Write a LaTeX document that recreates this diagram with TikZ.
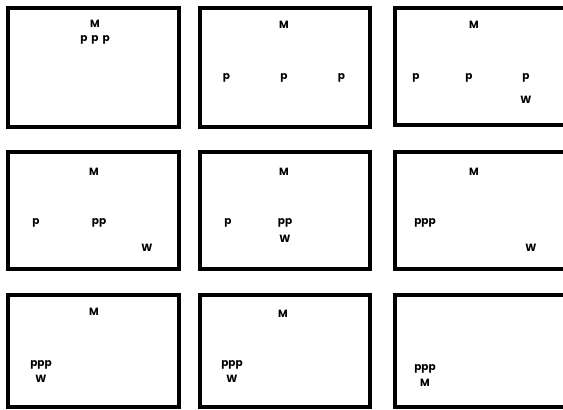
\documentclass[tikz,border=0pt]{standalone}
\usepackage{fontspec}
\setmainfont{Poppins}
\usetikzlibrary{positioning}

\tikzset{
    frame/.style={draw, line width=3.8pt},
    tok/.style={inner sep=0pt, font=\fontsize{10.5}{10.5}\selectfont\bfseries},
}

\begin{document}
\begin{tikzpicture}[x=1pt, y=-1pt]
    \useasboundingbox (0,0) rectangle (563,410);
    % frames (right column runs off the page)
    \draw[frame] (8,8) rectangle (179,127);
    \draw[frame] (200,8) rectangle (370,127);
    \draw[frame] (395,8) rectangle (575,125);
    \draw[frame] (8,152) rectangle (179,269);
    \draw[frame] (200,152) rectangle (370,269);
    \draw[frame] (395,152) rectangle (575,269);
    \draw[frame] (8,295) rectangle (179,407);
    \draw[frame] (200,295) rectangle (370,407);
    \draw[frame] (395,295) rectangle (575,407);

    % panel 1
    \node[tok] (m1) at (95,24) {M};
    \node[tok] (p1) at (95,40) {p\hspace{4pt}p\hspace{4pt}p};
    % panel 2
    \node[tok] (m2) at (284,25) {M};
    \node[tok] (p2b) at (284,78) {p};
    \node[tok, left=50pt of p2b] (p2a) {p};
    \node[tok, right=50pt of p2b] (p2c) {p};
    % panel 3
    \node[tok] (m3) at (474,25) {M};
    \node[tok] (p3b) at (469,78) {p};
    \node[tok] (p3a) at (416,78) {p};
    \node[tok] (p3c) at (526,78) {p};
    \node[tok, below=13pt of p3c] (w3) {W};
    % panel 4
    \node[tok] (m4) at (94,172) {M};
    \node[tok] (p4a) at (36,223) {p};
    \node[tok] (p4b) at (99,223) {pp};
    \node[tok] (w4) at (147,248) {W};
    % panel 5
    \node[tok] (m5) at (284,172) {M};
    \node[tok] (p5a) at (228,223) {p};
    \node[tok] (p5b) at (285,223) {pp};
    \node[tok, below=7pt of p5b] (w5) {W};
    % panel 6
    \node[tok] (m6) at (474,172) {M};
    \node[tok] (p6) at (425,223) {ppp};
    \node[tok] (w6) at (531,248) {W};
    % panel 7
    \node[tok] (m7) at (94,312) {M};
    \node[tok] (p7) at (41,365) {ppp};
    \node[tok, below=5pt of p7] (w7) {W};
    % panel 8
    \node[tok] (m8) at (283,314) {M};
    \node[tok] (p8) at (232,365) {ppp};
    \node[tok, below=5pt of p8] (w8) {W};
    % panel 9
    \node[tok] (p9) at (425,369) {ppp};
    \node[tok, below=5pt of p9] (m9) {M};
\end{tikzpicture}
\end{document}
